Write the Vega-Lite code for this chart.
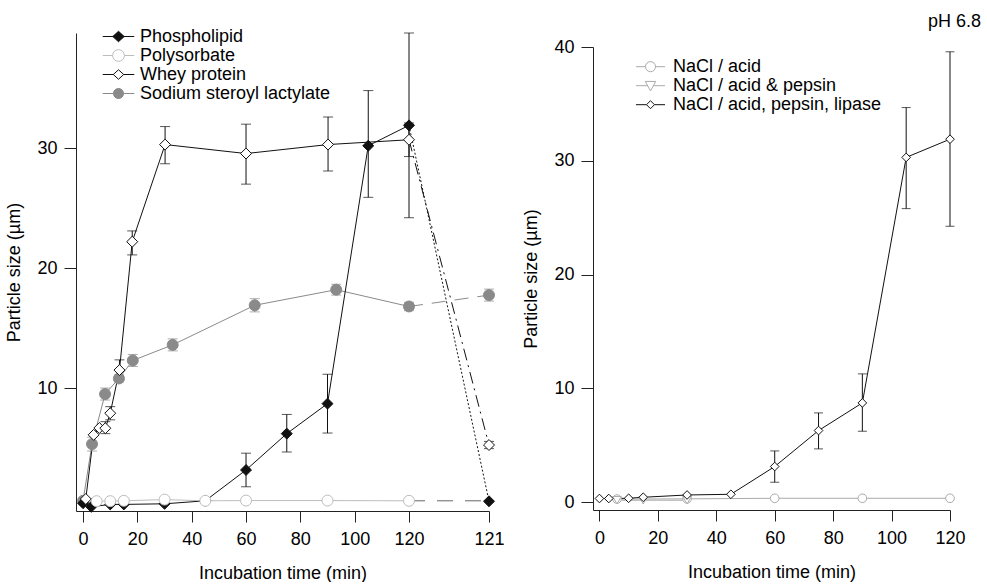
{
  "$schema": "https://vega.github.io/schema/vega-lite/v6.json",
  "usermeta": {"embedOptions": {"actions": false}},
  "padding": {"left": 5, "top": 13, "right": 0, "bottom": 0},
  "spacing": 17,
  "resolve": {
    "scale": {"shape": "independent", "fill": "independent", "stroke": "independent", "color": "independent", "strokeDash": "independent"},
    "legend": {"shape": "independent", "fill": "independent", "stroke": "independent", "color": "independent", "strokeDash": "independent"}
  },
  "datasets": {
    "left": [
      {"series": "Sodium steroyl lactylate", "t": 0, "v": 0.6},
      {"series": "Sodium steroyl lactylate", "t": 3.3, "v": 5.33, "lo": 4.75, "hi": 5.9},
      {"series": "Sodium steroyl lactylate", "t": 8.1, "v": 9.5, "lo": 9.0, "hi": 10.0},
      {"series": "Sodium steroyl lactylate", "t": 13.2, "v": 10.8, "lo": 10.5, "hi": 11.1},
      {"series": "Sodium steroyl lactylate", "t": 18.3, "v": 12.3, "lo": 11.8, "hi": 12.8},
      {"series": "Sodium steroyl lactylate", "t": 33, "v": 13.6, "lo": 13.1, "hi": 14.1},
      {"series": "Sodium steroyl lactylate", "t": 63.2, "v": 16.9, "lo": 16.35, "hi": 17.45},
      {"series": "Sodium steroyl lactylate", "t": 93.2, "v": 18.2, "lo": 17.75, "hi": 18.65},
      {"series": "Sodium steroyl lactylate", "t": 120, "v": 16.8, "lo": 16.45, "hi": 17.15},
      {"series": "Sodium steroyl lactylate", "t": 121, "v": 17.75, "lo": 17.25, "hi": 18.25},
      {"series": "Phospholipid", "t": 0, "v": 0.4},
      {"series": "Phospholipid", "t": 3, "v": 0.1},
      {"series": "Phospholipid", "t": 10, "v": 0.3},
      {"series": "Phospholipid", "t": 15, "v": 0.3},
      {"series": "Phospholipid", "t": 30, "v": 0.35},
      {"series": "Phospholipid", "t": 45, "v": 0.6},
      {"series": "Phospholipid", "t": 60, "v": 3.17, "lo": 1.77, "hi": 4.57},
      {"series": "Phospholipid", "t": 75, "v": 6.2, "lo": 4.67, "hi": 7.8},
      {"series": "Phospholipid", "t": 90, "v": 8.7, "lo": 6.25, "hi": 11.15},
      {"series": "Phospholipid", "t": 105, "v": 30.2, "lo": 25.9, "hi": 34.8},
      {"series": "Phospholipid", "t": 120, "v": 31.9, "lo": 24.2, "hi": 39.6},
      {"series": "Phospholipid", "t": 121, "v": 0.56},
      {"series": "Polysorbate", "t": 5, "v": 0.57},
      {"series": "Polysorbate", "t": 10, "v": 0.57},
      {"series": "Polysorbate", "t": 15, "v": 0.6},
      {"series": "Polysorbate", "t": 30, "v": 0.7},
      {"series": "Polysorbate", "t": 45, "v": 0.6},
      {"series": "Polysorbate", "t": 60, "v": 0.62},
      {"series": "Polysorbate", "t": 90, "v": 0.62},
      {"series": "Polysorbate", "t": 120, "v": 0.6},
      {"series": "Whey protein", "t": 1, "v": 0.75},
      {"series": "Whey protein", "t": 3.9, "v": 6.1},
      {"series": "Whey protein", "t": 6, "v": 6.67},
      {"series": "Whey protein", "t": 8.2, "v": 6.65, "lo": 6.2, "hi": 7.2},
      {"series": "Whey protein", "t": 10, "v": 7.9, "lo": 7.35, "hi": 8.45},
      {"series": "Whey protein", "t": 13.4, "v": 11.5, "lo": 10.7, "hi": 12.35},
      {"series": "Whey protein", "t": 18.1, "v": 22.2, "lo": 21.1, "hi": 23.1},
      {"series": "Whey protein", "t": 30.2, "v": 30.3, "lo": 28.7, "hi": 31.8},
      {"series": "Whey protein", "t": 60, "v": 29.55, "lo": 27.0, "hi": 32.0},
      {"series": "Whey protein", "t": 90.2, "v": 30.3, "lo": 28.1, "hi": 32.6},
      {"series": "Whey protein", "t": 120, "v": 30.7, "lo": 29.3, "hi": 32.1},
      {"series": "Whey protein", "t": 121, "v": 5.25, "lo": 4.95, "hi": 5.55}
    ],
    "leftTails": [
      {"series": "Phospholipid", "t": 120, "v": 31.9},
      {"series": "Phospholipid", "t": 121, "v": 0.56},
      {"series": "Polysorbate", "t": 120, "v": 0.6},
      {"series": "Polysorbate", "t": 121, "v": 0.6},
      {"series": "Whey protein", "t": 120, "v": 30.7},
      {"series": "Whey protein", "t": 121, "v": 5.25},
      {"series": "Sodium steroyl lactylate", "t": 120, "v": 16.8},
      {"series": "Sodium steroyl lactylate", "t": 121, "v": 17.75}
    ],
    "right": [
      {"series": "NaCl / acid", "t": 6, "v": 0.28},
      {"series": "NaCl / acid", "t": 30, "v": 0.3},
      {"series": "NaCl / acid", "t": 60, "v": 0.35},
      {"series": "NaCl / acid", "t": 90, "v": 0.35},
      {"series": "NaCl / acid", "t": 120, "v": 0.35},
      {"series": "NaCl / acid & pepsin", "t": 6, "v": 0.18},
      {"series": "NaCl / acid & pepsin", "t": 15, "v": 0.18},
      {"series": "NaCl / acid & pepsin", "t": 30, "v": 0.18},
      {"series": "NaCl / acid, pepsin, lipase", "t": 0, "v": 0.33},
      {"series": "NaCl / acid, pepsin, lipase", "t": 3.2, "v": 0.33},
      {"series": "NaCl / acid, pepsin, lipase", "t": 10, "v": 0.35},
      {"series": "NaCl / acid, pepsin, lipase", "t": 15, "v": 0.44},
      {"series": "NaCl / acid, pepsin, lipase", "t": 30, "v": 0.64},
      {"series": "NaCl / acid, pepsin, lipase", "t": 45, "v": 0.7},
      {"series": "NaCl / acid, pepsin, lipase", "t": 60, "v": 3.14, "lo": 1.76, "hi": 4.51},
      {"series": "NaCl / acid, pepsin, lipase", "t": 75, "v": 6.3, "lo": 4.69, "hi": 7.85},
      {"series": "NaCl / acid, pepsin, lipase", "t": 90, "v": 8.73, "lo": 6.24, "hi": 11.28},
      {"series": "NaCl / acid, pepsin, lipase", "t": 105, "v": 30.3, "lo": 25.8, "hi": 34.68},
      {"series": "NaCl / acid, pepsin, lipase", "t": 120, "v": 31.9, "lo": 24.25, "hi": 39.58}
    ]
  },
  "hconcat": [
    {
      "width": 413,
      "height": 478,
      "resolve": {
        "scale": {"shape": "independent", "fill": "independent", "stroke": "independent"},
        "legend": {"shape": "independent", "fill": "independent", "stroke": "independent"}
      },
      "encoding": {
        "x": {
          "field": "t", "type": "quantitative", "title": "Incubation time (min)",
          "scale": {"domain": [-2.6, 120, 121], "range": [0, 333, 413], "nice": false, "zero": false},
          "axis": {"values": [0, 20, 40, 60, 80, 100, 120, 121], "labelFlush": false}
        },
        "y": {
          "field": "v", "type": "quantitative", "title": "Particle size (µm)",
          "scale": {"domain": [-0.25, 39.6], "nice": false, "zero": false},
          "axis": {"values": [10, 20, 30]}
        }
      },
      "layer": [
        {
          "data": {"name": "left"},
          "transform": [{"filter": "datum.t <= 120"}],
          "mark": {"type": "line", "strokeWidth": 1},
          "encoding": {
            "stroke": {
              "field": "series", "type": "nominal", "legend": null,
              "scale": {"domain": ["Sodium steroyl lactylate", "Phospholipid", "Polysorbate", "Whey protein"], "range": ["#8a8a8a", "#111111", "#bdbdbd", "#111111"]}
            }
          }
        },
        {
          "data": {"name": "leftTails"},
          "mark": {"type": "line", "strokeWidth": 1},
          "encoding": {
            "color": {
              "field": "series", "type": "nominal", "legend": null,
              "scale": {"domain": ["Sodium steroyl lactylate", "Phospholipid", "Polysorbate", "Whey protein"], "range": ["#8a8a8a", "#111111", "#666666", "#111111"]}
            },
            "strokeDash": {
              "field": "series", "type": "nominal", "legend": null,
              "scale": {"domain": ["Sodium steroyl lactylate", "Phospholipid", "Polysorbate", "Whey protein"], "range": [[14, 9], [2, 2], [16, 12], [12, 5, 2, 5]]}
            }
          }
        },
        {
          "data": {"name": "left"},
          "transform": [{"filter": "isValid(datum.lo)"}],
          "mark": {"type": "errorbar", "ticks": {"size": 10, "thickness": 1}, "rule": {"strokeWidth": 1}},
          "encoding": {
            "y": {
              "field": "lo", "type": "quantitative", "title": "Particle size (µm)",
              "scale": {"domain": [-0.25, 39.6], "nice": false, "zero": false},
              "axis": {"values": [10, 20, 30]}
            },
            "y2": {"field": "hi"},
            "color": {
              "field": "series", "type": "nominal", "legend": null,
              "scale": {"domain": ["Sodium steroyl lactylate", "Phospholipid", "Polysorbate", "Whey protein"], "range": ["#8a8a8a", "#111111", "#666666", "#111111"]}
            }
          }
        },
        {
          "data": {"name": "left"},
          "mark": {"type": "point", "filled": true, "opacity": 1, "strokeWidth": 1, "size": 120},
          "encoding": {
            "shape": {
              "field": "series", "type": "nominal", "legend": null,
              "scale": {"domain": ["Sodium steroyl lactylate", "Phospholipid", "Polysorbate", "Whey protein"], "range": ["circle", "diamond", "circle", "diamond"]}
            },
            "fill": {
              "field": "series", "type": "nominal", "legend": null,
              "scale": {"domain": ["Sodium steroyl lactylate", "Phospholipid", "Polysorbate", "Whey protein"], "range": ["#8a8a8a", "#111111", "#ffffff", "#ffffff"]}
            },
            "stroke": {
              "field": "series", "type": "nominal", "legend": null,
              "scale": {"domain": ["Sodium steroyl lactylate", "Phospholipid", "Polysorbate", "Whey protein"], "range": ["#8a8a8a", "#111111", "#bdbdbd", "#111111"]}
            }
          }
        },
        {
          "data": {"name": "left"},
          "mark": {"type": "point", "filled": true, "opacity": 0, "strokeWidth": 1, "size": 10},
          "encoding": {
            "shape": {
              "field": "series", "type": "nominal", "title": null,
              "scale": {"domain": ["Phospholipid", "Polysorbate", "Whey protein", "Sodium steroyl lactylate"], "range": ["M-1.66,0H1.66M0,-0.55L0.6,0L0,0.55L-0.6,0Z", "M-1.66,0H-0.62M0.62,0H1.66M0.62,0A0.62,0.62,0,1,1,-0.62,0A0.62,0.62,0,1,1,0.62,0Z", "M-1.66,0H-0.55M0.55,0H1.66M0,-0.5L0.55,0L0,0.5L-0.55,0Z", "M-1.66,0H1.66M0.53,0A0.53,0.53,0,1,1,-0.53,0A0.53,0.53,0,1,1,0.53,0Z"]},
              "legend": {"orient": "none", "legendX": 32.5, "legendY": -6.5, "title": null, "symbolSize": 361, "labelOffset": 11.5, "rowPadding": -5, "padding": 0, "symbolOpacity": 1, "symbolStrokeWidth": 1}
            },
            "fill": {
              "field": "series", "type": "nominal", "title": null,
              "scale": {"domain": ["Phospholipid", "Polysorbate", "Whey protein", "Sodium steroyl lactylate"], "range": ["#111111", "#ffffff", "#ffffff", "#8a8a8a"]},
              "legend": {"orient": "none", "legendX": 32.5, "legendY": -6.5, "title": null, "symbolSize": 361, "labelOffset": 11.5, "rowPadding": -5, "padding": 0, "symbolOpacity": 1, "symbolStrokeWidth": 1}
            },
            "stroke": {
              "field": "series", "type": "nominal", "title": null,
              "scale": {"domain": ["Phospholipid", "Polysorbate", "Whey protein", "Sodium steroyl lactylate"], "range": ["#111111", "#bdbdbd", "#111111", "#8a8a8a"]},
              "legend": {"orient": "none", "legendX": 32.5, "legendY": -6.5, "title": null, "symbolSize": 361, "labelOffset": 11.5, "rowPadding": -5, "padding": 0, "symbolOpacity": 1, "symbolStrokeWidth": 1}
            }
          }
        }
      ]
    },
    {
      "width": 388,
      "height": 477,
      "title": {"text": "pH 6.8", "anchor": "end", "offset": 2},
      "resolve": {
        "scale": {"shape": "independent", "fill": "independent", "stroke": "independent"},
        "legend": {"shape": "independent", "fill": "independent", "stroke": "independent"}
      },
      "encoding": {
        "x": {
          "field": "t", "type": "quantitative", "title": "Incubation time (min)",
          "scale": {"domain": [-2.2, 120], "range": [0, 357], "nice": false, "zero": false},
          "axis": {"values": [0, 20, 40, 60, 80, 100, 120], "labelFlush": false}
        },
        "y": {
          "field": "v", "type": "quantitative", "title": "Particle size (µm)",
          "scale": {"domain": [-0.68, 40], "range": [477, 14], "nice": false, "zero": false},
          "axis": {"values": [0, 10, 20, 30, 40]}
        }
      },
      "layer": [
        {
          "data": {"name": "right"},
          "mark": {"type": "line", "strokeWidth": 1},
          "encoding": {
            "stroke": {
              "field": "series", "type": "nominal", "legend": null,
              "scale": {"domain": ["NaCl / acid, pepsin, lipase", "NaCl / acid", "NaCl / acid & pepsin"], "range": ["#111111", "#aaaaaa", "#aaaaaa"]}
            }
          }
        },
        {
          "data": {"name": "right"},
          "transform": [{"filter": "isValid(datum.lo)"}],
          "mark": {"type": "errorbar", "ticks": {"size": 9, "thickness": 1}, "rule": {"strokeWidth": 1}},
          "encoding": {
            "y": {
              "field": "lo", "type": "quantitative", "title": "Particle size (µm)",
              "scale": {"domain": [-0.68, 40], "range": [477, 14], "nice": false, "zero": false},
              "axis": {"values": [0, 10, 20, 30, 40]}
            },
            "y2": {"field": "hi"},
            "color": {"value": "#111111"}
          }
        },
        {
          "data": {"name": "right"},
          "mark": {"type": "point", "filled": true, "opacity": 1, "strokeWidth": 1, "size": 75, "fill": "#ffffff"},
          "encoding": {
            "shape": {
              "field": "series", "type": "nominal", "legend": null,
              "scale": {"domain": ["NaCl / acid, pepsin, lipase", "NaCl / acid", "NaCl / acid & pepsin"], "range": ["diamond", "circle", "triangle-down"]}
            },
            "stroke": {
              "field": "series", "type": "nominal", "legend": null,
              "scale": {"domain": ["NaCl / acid, pepsin, lipase", "NaCl / acid", "NaCl / acid & pepsin"], "range": ["#111111", "#aaaaaa", "#aaaaaa"]}
            }
          }
        },
        {
          "data": {"name": "right"},
          "mark": {"type": "point", "filled": true, "opacity": 0, "strokeWidth": 1, "size": 10},
          "encoding": {
            "shape": {
              "field": "series", "type": "nominal", "title": null,
              "scale": {"domain": ["NaCl / acid", "NaCl / acid & pepsin", "NaCl / acid, pepsin, lipase"], "range": ["M-1.53,0H-0.53M0.53,0H1.53M0.53,0A0.53,0.53,0,1,1,-0.53,0A0.53,0.53,0,1,1,0.53,0Z", "M-1.53,0H-0.3M0.3,0H1.53M-0.55,-0.45L0.55,-0.45L0,0.55Z", "M-1.53,0H-0.42M0.42,0H1.53M0,-0.42L0.42,0L0,0.42L-0.42,0Z"]},
              "legend": {"orient": "none", "legendX": 47.5, "legendY": 23.7, "title": null, "symbolSize": 361, "labelOffset": 12.5, "rowPadding": 0, "padding": 0, "symbolOpacity": 1, "symbolStrokeWidth": 1}
            },
            "fill": {
              "field": "series", "type": "nominal", "title": null,
              "scale": {"domain": ["NaCl / acid", "NaCl / acid & pepsin", "NaCl / acid, pepsin, lipase"], "range": ["#ffffff", "#ffffff", "#ffffff"]},
              "legend": {"orient": "none", "legendX": 47.5, "legendY": 23.7, "title": null, "symbolSize": 361, "labelOffset": 12.5, "rowPadding": 0, "padding": 0, "symbolOpacity": 1, "symbolStrokeWidth": 1}
            },
            "stroke": {
              "field": "series", "type": "nominal", "title": null,
              "scale": {"domain": ["NaCl / acid", "NaCl / acid & pepsin", "NaCl / acid, pepsin, lipase"], "range": ["#aaaaaa", "#aaaaaa", "#111111"]},
              "legend": {"orient": "none", "legendX": 47.5, "legendY": 23.7, "title": null, "symbolSize": 361, "labelOffset": 12.5, "rowPadding": 0, "padding": 0, "symbolOpacity": 1, "symbolStrokeWidth": 1}
            }
          }
        }
      ]
    }
  ],
  "config": {
    "font": "Liberation Sans",
    "view": {"stroke": null},
    "axis": {
      "grid": false, "domainColor": "#222222", "tickColor": "#222222", "labelColor": "#000000", "titleColor": "#000000",
      "domainWidth": 1, "tickWidth": 1, "labelFontSize": 18, "titleFontSize": 18, "titleFontWeight": "normal",
      "labelFont": "Liberation Sans", "titleFont": "Liberation Sans"
    },
    "axisX": {"tickSize": 11, "labelPadding": 8, "titlePadding": 16},
    "axisY": {"tickSize": 12, "labelPadding": 7, "titlePadding": 13},
    "legend": {"labelFontSize": 18, "labelFont": "Liberation Sans", "labelColor": "#000000", "labelLimit": 500, "symbolOpacity": 1, "symbolStrokeWidth": 1},
    "title": {"fontSize": 18, "fontWeight": "normal", "font": "Liberation Sans", "color": "#000000"}
  }
}
